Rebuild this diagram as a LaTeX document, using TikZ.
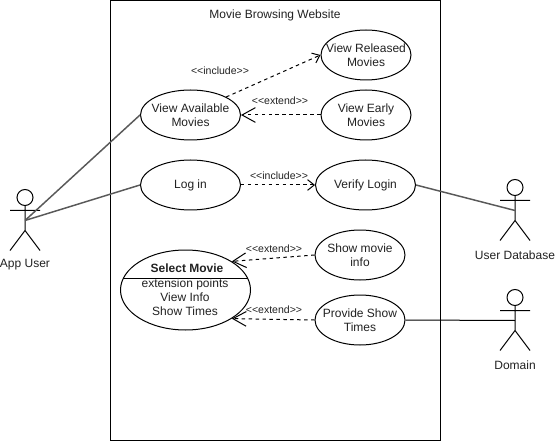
\documentclass[tikz,border=0pt]{standalone}
\usepackage{fontspec}
\setmainfont{Liberation Sans}
\usetikzlibrary{shapes.geometric,arrows.meta}
\definecolor{ink}{HTML}{222222}
\tikzset{
  x=0.75pt,y=-0.75pt,
  every node/.style={text=ink,font=\fontsize{9}{10.6}\selectfont,align=center,inner sep=0pt},
  usecase/.style={draw=black,line width=0.75pt,ellipse,inner sep=-25pt,minimum width=#1*0.75pt,minimum height=37.5pt,fill=white},
  usecase/.default=100,
  small/.style={font=\fontsize{7.9}{9}\selectfont},
  assoc/.style={draw=black!65,line width=1.1pt},
  thinassoc/.style={draw=black,line width=0.75pt},
  dep/.style={draw=black,line width=0.75pt,dash pattern=on 2.6pt off 2.6pt,-{Straight Barb[length=5pt,width=8pt,line width=0.75pt]}},
  bigdep/.style={draw=black,line width=0.75pt,dash pattern=on 2.6pt off 2.6pt,-{Straight Barb[length=10pt,width=11pt,line width=0.75pt]}},
  actorline/.style={draw=black,line width=0.75pt},
}
\newcommand{\actor}[3]{% name, x, head y
  \draw[actorline] (#2,#3) circle[radius=6pt];
  \draw[actorline] (#2,#3+8) -- (#2,#3+33) (#2-15,#3+13) -- (#2+15,#3+13)
    (#2-15,#3+53) -- (#2,#3+33) -- (#2+15,#3+53);
  \coordinate (#1) at (#2,#3+23);
}
\begin{document}
\begin{tikzpicture}
\useasboundingbox (0,0) rectangle (555,441);
\fill[white] (0,0) rectangle (555,441);
\draw[line width=0.75pt] (110.5,0.5) rectangle (440.5,440.5);
\node (title) at (275,15) {Movie Browsing Website};

\node[usecase] (avail) at (190.5,115) {View Available\\Movies};
\node[usecase] (login) at (190.5,185) {Log in};
\node[usecase=90] (released) at (366,55) {View Released\\Movies};
\node[usecase=90] (early) at (366,115) {View Early\\Movies};
\node[usecase] (verify) at (365.5,185) {Verify Login};
\node[usecase=90] (info) at (360,255) {Show movie\\info};
\node[usecase=90] (times) at (360,320) {Provide Show\\Times};

\node[draw=black,line width=0.75pt,ellipse,minimum width=97.5pt,minimum height=60pt] (select) at (185.5,290) {};
\draw[line width=0.75pt] (123,278) -- (247.5,278);
\node[font=\fontsize{9}{10.6}\selectfont\bfseries] (selecttitle) at (187,268) {Select Movie};
\node (selectbody) at (185,297) {extension points\\View Info\\Show Times};

\actor{appuser}{25}{197.5}
\actor{userdb}{515}{187.5}
\actor{domain}{515}{297.5}
\node (appuserlabel) at (25,265) {App User};
\node (userdblabel) at (515,255) {User Database};
\node (domainlabel) at (515,365) {Domain};

\draw[assoc] (appuser) -- (avail.west);
\draw[assoc] (appuser) -- (login.west);
\draw[assoc] (verify.east) -- (userdb);
\draw[thinassoc] (times.east) -- (domain);

\draw[dep] (avail.north east) -- (released.west);
\draw[bigdep] (early.west) -- (avail.east);
\draw[dep] (login.east) -- (verify.west);
\draw[bigdep] (info.west) -- (select.north east);
\draw[bigdep] (times.west) -- (select.south east);

\node[small] (l1) at (220,71) {<{}<include>{}>};
\node[small] (l2) at (280,101) {<{}<extend>{}>};
\node[small] (l3) at (279,176) {<{}<include>{}>};
\node[small] (l4) at (274,249) {<{}<extend>{}>};
\node[small] (l5) at (274,310) {<{}<extend>{}>};
\end{tikzpicture}
\end{document}
